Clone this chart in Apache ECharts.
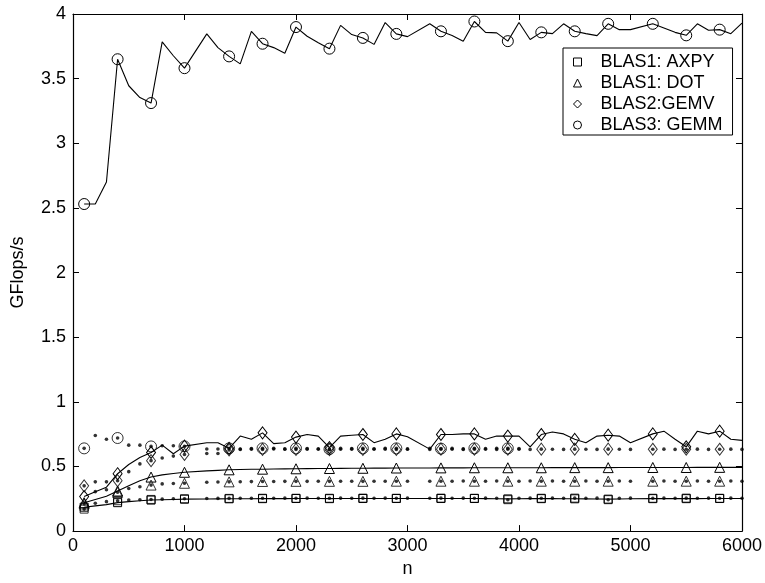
<!DOCTYPE html>
<html><head><meta charset="utf-8">
<script src="https://cdn.jsdelivr.net/npm/echarts@6/dist/echarts.min.js"></script>
<style>html,body{margin:0;padding:0;background:#fff}#c{width:765px;height:583px}</style>
</head><body><div id="c"></div>
<script>
// problem sizes n (1100, 3100, 5100 absent in the measurements)
const nValues = [100,200,300,400,500,600,700,800,900,1000,
  1200,1300,1400,1500,1600,1700,1800,1900,2000,2100,2200,2300,2400,2500,2600,2700,2800,2900,3000,
  3200,3300,3400,3500,3600,3700,3800,3900,4000,4100,4200,4300,4400,4500,4600,4700,4800,4900,5000,
  5200,5300,5400,5500,5600,5700,5800,5900,6000];

// solid curves
const gemmSolid = [2.53,2.53,2.70,3.65,3.445,3.354,3.311,3.785,3.677,3.581,
  3.846,3.740,3.672,3.614,3.866,3.770,3.740,3.697,3.899,3.828,3.778,3.732,3.912,3.841,3.815,3.765,3.934,3.846,3.825,
  3.924,3.866,3.833,3.790,3.942,3.858,3.854,3.790,3.934,3.803,3.858,3.848,3.924,3.866,3.848,3.833,3.924,3.879,3.879,
  3.924,3.892,3.858,3.835,3.924,3.874,3.879,3.848,3.929];
const gemvSolid = [0.267,0.305,0.34,0.444,0.515,0.57,0.608,0.665,0.598,0.657,
  0.684,0.684,0.64,0.735,0.71,0.76,0.677,0.684,0.727,0.747,0.735,0.646,0.735,0.742,0.747,0.684,0.71,0.752,0.73,
  0.634,0.747,0.747,0.752,0.752,0.71,0.735,0.735,0.735,0.652,0.747,0.767,0.752,0.71,0.684,0.735,0.742,0.735,0.684,
  0.752,0.773,0.71,0.652,0.773,0.752,0.773,0.71,0.702];
const dotSolid = [0.22,0.245,0.27,0.31,0.35,0.39,0.418,0.435,0.446,0.455,
  0.466,0.47,0.474,0.476,0.478,0.479,0.48,0.481,0.482,0.483,0.484,0.484,0.485,0.486,0.486,0.487,0.487,0.488,0.488,
  0.488,0.489,0.489,0.489,0.49,0.49,0.49,0.49,0.49,0.49,0.49,0.491,0.491,0.491,0.491,0.491,0.491,0.492,0.492,
  0.492,0.492,0.492,0.492,0.493,0.493,0.493,0.493,0.493];
const axpySolid = [0.185,0.195,0.205,0.22,0.228,0.235,0.24,0.243,0.245,0.247,
  0.248,0.249,0.25,0.25,0.25,0.251,0.251,0.251,0.252,0.252,0.252,0.251,0.252,0.252,0.252,0.252,0.252,0.252,0.252,
  0.252,0.252,0.252,0.252,0.252,0.251,0.25,0.249,0.25,0.251,0.251,0.251,0.25,0.25,0.249,0.248,0.247,0.248,0.25,
  0.251,0.251,0.251,0.251,0.251,0.252,0.252,0.252,0.252];

// dotted curves
const gemmDotted = [0.64,0.74,0.71,0.72,0.665,0.665,0.655,0.66,0.66,0.655,
  0.635,0.635,0.64,0.635,0.638,0.64,0.64,0.636,0.64,0.638,0.637,0.634,0.64,0.638,0.64,0.637,0.64,0.64,0.636,
  0.64,0.638,0.64,0.636,0.64,0.638,0.64,0.64,0.638];
const gemvDotted = [0.35,0.381,0.381,0.39,0.46,0.52,0.545,0.565,0.58,0.593,
  0.60,0.60,0.628,0.632,0.634,0.632,0.635,0.633,0.632,0.634,0.633,0.63,0.633,0.634,0.632,0.633,0.634,0.632,0.633,
  0.632,0.634,0.633,0.632,0.634,0.633,0.632,0.634,0.633,0.632,0.634,0.633,0.632,0.634,0.633,0.632,0.634,0.633,0.632,
  0.633,0.634,0.632,0.633,0.634,0.632,0.633,0.634,0.632];
const dotDotted = [0.21,0.305,0.32,0.30,0.33,0.343,0.356,0.365,0.368,0.37,
  0.378,0.38,0.381,0.382,0.383,0.384,0.384,0.385,0.385,0.385,0.386,0.385,0.386,0.386,0.385,0.386,0.386,0.386,0.386,
  0.386,0.386,0.386,0.387,0.386,0.386,0.387,0.386,0.386,0.387,0.386,0.387,0.386,0.386,0.387,0.386,0.386,0.387,0.386,
  0.386,0.387,0.386,0.386,0.387,0.386,0.386,0.387,0.386];
const axpyDotted = [0.17,0.215,0.228,0.235,0.24,0.243,0.245,0.247,0.25,0.25,
  0.252,0.253,0.253,0.254,0.254,0.254,0.254,0.255,0.254,0.255,0.254,0.254,0.255,0.254,0.255,0.254,0.255,0.254,0.255,
  0.254,0.255,0.254,0.255,0.254,0.255,0.254,0.243,0.254,0.255,0.254,0.255,0.254,0.255,0.254,0.255,0.243,0.254,0.255,
  0.254,0.255,0.254,0.255,0.254,0.255,0.254,0.255,0.254];

const names = ['BLAS1: AXPY','BLAS1: DOT','BLAS2:GEMV','BLAS3: GEMM'];
const yTicks = {min:0, max:4, interval:0.5};
const xTicks = {min:0, max:6000, interval:1000};

const FONT = '"Liberation Sans", Arial, Helvetica, sans-serif';
const chart = echarts.init(document.getElementById('c'), null, {renderer:'canvas'});
function pairs(ys){ return ys.map((v,i)=>[nValues[i], v]); }
const hollow = {color:'rgba(0,0,0,0)', borderColor:'#000', borderWidth:1};
function isMarker(i){ return i % 3 === 0; }
const common = {xAxisIndex:0, yAxisIndex:0, animation:false, silent:true, emphasis:{disabled:true}};
function solid(name, ys, shape, size){
  return Object.assign({type:'line', name, data:pairs(ys), showSymbol:true,
    symbol:(v,p)=>isMarker(p.dataIndex)?shape:'none',
    symbolSize:(v,p)=>isMarker(p.dataIndex)?size:0,
    lineStyle:{color:'#000', width:1.1}, itemStyle:hollow, z:3}, common);
}
function markers(name, ys, shape, size){
  return Object.assign({type:'scatter', name, data:pairs(ys),
    symbol:(v,p)=>isMarker(p.dataIndex)?shape:'none',
    symbolSize:(v,p)=>isMarker(p.dataIndex)?size:0,
    itemStyle:hollow, z:4}, common);
}
function dots(name, ys){
  return Object.assign({type:'scatter', name, data:pairs(ys), symbol:'circle', symbolSize:3.6,
    itemStyle:{color:'#000'}, z:5}, common);
}
const shapes = {axpy:['rect',8], dot:['triangle',10], gemv:['diamond',[9,12]], gemm:['circle',11]};

const axisLine = {show:true, onZero:false, lineStyle:{color:'#000', width:1.2}};
const axisTick = {show:true, inside:true, length:6, lineStyle:{color:'#000', width:1}};
const labelStyle = {fontSize:18, color:'#000', fontFamily:FONT};

chart.setOption({
  backgroundColor:'#fff',
  animation:false,
  grid:{left:73, right:22, top:14, bottom:41, containLabel:false},
  xAxis:[
    Object.assign({type:'value', position:'bottom', name:'n', nameLocation:'middle', nameGap:21,
      nameTextStyle:labelStyle, axisLine, axisTick,
      axisLabel:Object.assign({margin:6, formatter:v=>String(v)}, labelStyle), splitLine:{show:false}}, xTicks),
    Object.assign({type:'value', position:'top', axisLine, axisTick,
      axisLabel:{show:false}, splitLine:{show:false}}, xTicks)
  ],
  yAxis:[
    Object.assign({type:'value', position:'left', name:'GFlops/s', nameLocation:'middle', nameGap:46,
      nameTextStyle:labelStyle, axisLine, axisTick,
      axisLabel:Object.assign({margin:7}, labelStyle), splitLine:{show:false}}, yTicks),
    Object.assign({type:'value', position:'right', axisLine, axisTick,
      axisLabel:{show:false}, splitLine:{show:false}}, yTicks)
  ],
  legend:{
    left:563, top:48, orient:'vertical', selectedMode:false,
    backgroundColor:'#fff', borderColor:'#000', borderWidth:1,
    padding:[5,10,1,10], itemGap:3, itemWidth:8, itemHeight:8,
    itemStyle:{color:'rgba(0,0,0,0)', borderColor:'#000', borderWidth:1},
    textStyle:{fontSize:18, color:'#000', fontFamily:FONT, padding:[0,0,0,14]},
    data:[
      {name:names[0], icon:'rect'},
      {name:names[1], icon:'triangle'},
      {name:names[2], icon:'diamond'},
      {name:names[3], icon:'circle'}
    ]
  },
  series:[
    solid(names[0], axpySolid, ...shapes.axpy),
    solid(names[1], dotSolid, ...shapes.dot),
    solid(names[2], gemvSolid, ...shapes.gemv),
    solid(names[3], gemmSolid, ...shapes.gemm),
    markers(names[0], axpyDotted, ...shapes.axpy),
    markers(names[1], dotDotted, ...shapes.dot),
    markers(names[2], gemvDotted, ...shapes.gemv),
    markers(names[3], gemmDotted, ...shapes.gemm),
    dots(names[0], axpyDotted),
    dots(names[1], dotDotted),
    dots(names[2], gemvDotted),
    dots(names[3], gemmDotted)
  ]
});
</script></body></html>
